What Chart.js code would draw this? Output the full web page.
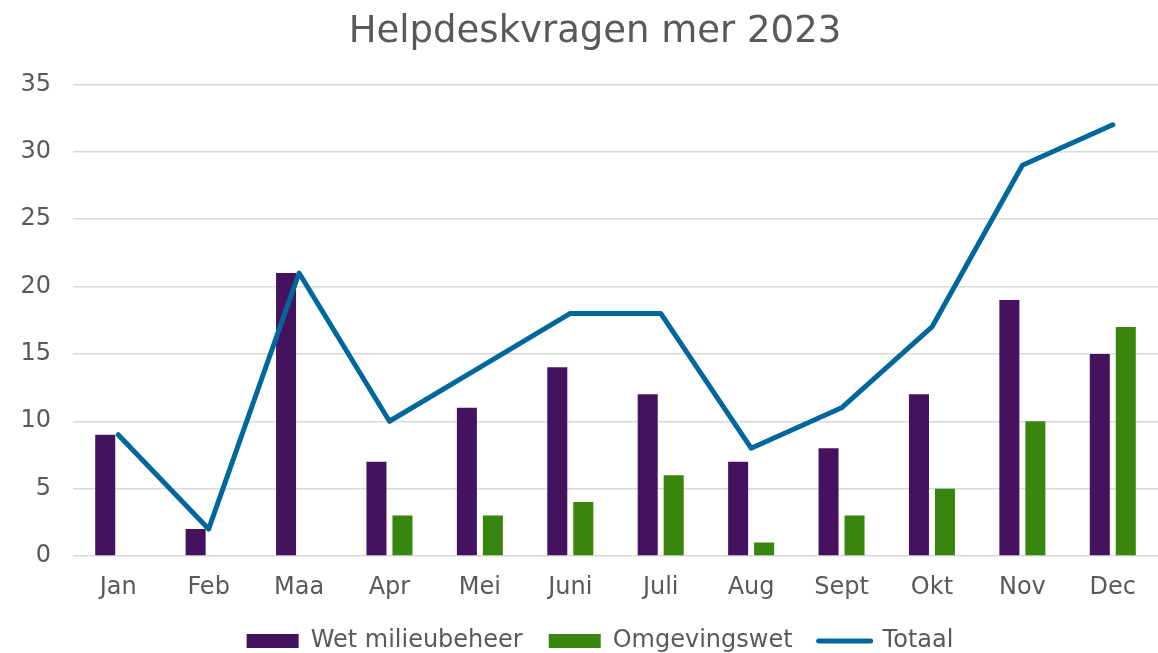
<!DOCTYPE html>
<html>
<head>
<meta charset="utf-8">
<title>Helpdeskvragen mer 2023</title>
<script src="https://cdn.jsdelivr.net/npm/chart.js@4.4.1/dist/chart.umd.min.js"></script>
<style>
  html, body { margin: 0; padding: 0; background: #fff; }
  #wrap { width: 1158px; height: 653px; position: relative; }
</style>
</head>
<body>
<div id="wrap"><canvas id="chart"></canvas></div>
<script>
const months = ['Jan', 'Feb', 'Maa', 'Apr', 'Mei', 'Juni', 'Juli', 'Aug', 'Sept', 'Okt', 'Nov', 'Dec'];
const wetMilieubeheer = [9, 2, 21, 7, 11, 14, 12, 7, 8, 12, 19, 15];
const omgevingswet = [0, 0, 0, 3, 3, 4, 6, 1, 3, 5, 10, 17];
const totaal = [9, 2, 21, 10, 14, 18, 18, 8, 11, 17, 29, 32];
const yTicks = [0, 5, 10, 15, 20, 25, 30, 35];

const textGrey = '#595959';
const font = "'DejaVu Sans', Verdana, sans-serif";

// nudge title and legend a bit right, like the original
const shiftBlocks = {
  id: 'shiftBlocks',
  afterLayout(chart) {
    if (chart.titleBlock) chart.titleBlock.left += 32;
    if (chart.legend) chart.legend.left += 42;
  },
};

const ctx = document.getElementById('chart').getContext('2d');
new Chart(ctx, {
  type: 'bar',
  data: {
    labels: months,
    datasets: [
      {
        label: 'Wet milieubeheer',
        data: wetMilieubeheer,
        backgroundColor: '#44125e',
        categoryPercentage: 0.575,
        barPercentage: 0.77,
      },
      {
        label: 'Omgevingswet',
        data: omgevingswet,
        backgroundColor: '#38860e',
        categoryPercentage: 0.575,
        barPercentage: 0.77,
      },
      {
        type: 'line',
        label: 'Totaal',
        data: totaal,
        borderColor: '#00679c',
        backgroundColor: '#00679c',
        borderWidth: 5,
        pointRadius: 0,
        tension: 0,
        borderJoinStyle: 'round',
        borderCapStyle: 'round',
        order: -1,
      },
    ],
  },
  options: {
    responsive: true,
    maintainAspectRatio: false,
    animation: false,
    layout: { padding: { left: 0, right: 0, top: 0, bottom: -10 } },
    scales: {
      x: {
        afterFit: (scale) => { scale.height = 47; },
        grid: { display: false, drawTicks: false },
        border: { display: false },
        ticks: { color: textGrey, font: { family: font, size: 24 }, padding: 17 },
      },
      y: {
        min: yTicks[0],
        max: yTicks[yTicks.length - 1],
        afterBuildTicks: (scale) => { scale.ticks = yTicks.map(v => ({ value: v })); },
        afterFit: (scale) => { scale.width = 73; },
        grid: { color: '#d9d9d9', lineWidth: 1.5, drawTicks: false },
        border: { display: false },
        ticks: { color: textGrey, font: { family: font, size: 24 }, padding: 22 },
      },
    },
    plugins: {
      title: {
        display: true,
        text: 'Helpdeskvragen mer 2023',
        color: textGrey,
        font: { family: font, size: 37, weight: 'normal' },
        padding: { top: 10, bottom: 30 },
      },
      legend: {
        position: 'bottom',
        labels: {
          color: textGrey,
          font: { family: font, size: 24 },
          usePointStyle: true,
          pointStyleWidth: 52,
          boxHeight: 14,
          padding: 26,
          sort: (a, b) => a.datasetIndex - b.datasetIndex,
          generateLabels: (chart) => {
            const items = Chart.defaults.plugins.legend.labels.generateLabels(chart);
            items.forEach(it => {
              const ds = chart.data.datasets[it.datasetIndex];
              if (ds.type === 'line') {
                it.pointStyle = 'line';
                it.lineWidth = 5;
                it.lineCap = 'round';
              } else {
                it.pointStyle = 'rect';
                it.lineWidth = 0;
              }
            });
            return items;
          },
        },
      },
      tooltip: { enabled: false },
    },
  },
  plugins: [shiftBlocks],
});
</script>
</body>
</html>
